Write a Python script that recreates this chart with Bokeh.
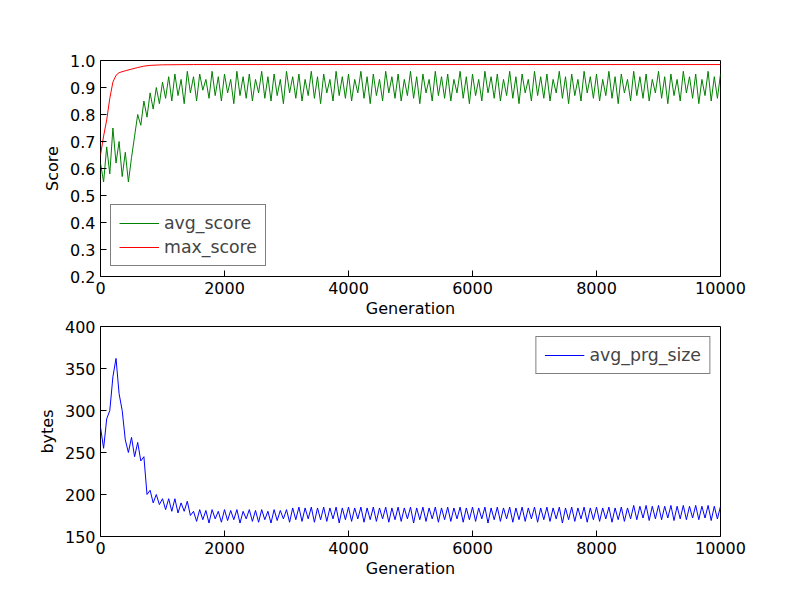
from bokeh.plotting import figure
from bokeh.layouts import column
from bokeh.models import FixedTicker, Legend, LegendItem, NumeralTickFormatter
from bokeh.embed import file_html
from bokeh.resources import INLINE

gen_step = 50
avg_score = [0.62,0.55,0.68,0.58,0.75,0.62,0.70,0.57,0.66,0.55,0.64,
 0.72,0.80,0.76,0.85,0.79,0.88,0.82,0.90,0.84,0.92,
 0.86,0.94,0.85,0.95,0.87,0.93,0.84,0.96,0.88,0.94,0.85,0.95,0.89,0.93,0.86,0.96,0.87,0.94,0.85,0.95,
 0.88,0.93,0.84,0.96,0.87,0.94,0.86,0.95,0.85,0.93,0.88,0.96,0.86,0.94,0.85,0.95,0.87,0.93,0.84,0.96,
 0.88,0.94,0.86,0.95,0.85,0.93,0.87,0.96,0.86,0.94,0.84,0.95,0.88,0.93,0.85,0.96,0.87,0.94,0.86,0.95,
 0.85,0.93,0.88,0.96,0.86,0.94,0.84,0.95,0.87,0.93,0.85,0.96,0.88,0.94,0.86,0.95,0.85,0.93,0.87,0.96,
 0.86,0.94,0.84,0.95,0.88,0.93,0.85,0.96,0.87,0.94,0.86,0.95,0.85,0.93,0.88,0.96,0.86,0.94,0.84,0.95,
 0.87,0.93,0.85,0.96,0.88,0.94,0.86,0.95,0.85,0.93,0.87,0.96,0.86,0.94,0.84,0.95,0.88,0.93,0.85,0.96,
 0.87,0.94,0.86,0.95,0.85,0.93,0.88,0.96,0.86,0.94,0.84,0.95,0.87,0.93,0.85,0.96,0.88,0.94,0.86,0.95,
 0.85,0.93,0.87,0.96,0.86,0.94,0.84,0.95,0.88,0.93,0.85,0.96,0.87,0.94,0.86,0.95,0.85,0.93,0.88,0.96,
 0.86,0.94,0.84,0.95,0.87,0.93,0.85,0.96,0.88,0.94,
 0.86,0.95,0.84,0.93,0.87,0.96,0.85,0.94,0.86,0.95]
max_x = [0,50,100,150,200,250,300,400,500,600,700,800,1000,1500,10000]
max_score = [0.65,0.72,0.78,0.86,0.92,0.945,0.955,0.962,0.968,0.974,0.979,0.982,0.984,0.985,0.985]
prg_size = [280,255,290,300,340,362,320,300,265,250,268,245,262,240,245,200,205,190,200,188,195,
 182,195,180,195,178,190,180,192,175,180,
 168,182,170,181,166,182,171,180,167,182,169,181,170,182,166,180,171,182,168,181,
 167,182,170,180,166,182,169,181,171,182,167,184,170,185,168,184,171,185,167,184,
 170,185,168,184,171,185,166,184,170,185,168,184,171,185,167,184,170,185,168,184,
 171,185,167,184,170,185,168,184,171,185,166,184,170,185,168,184,171,185,167,184,
 170,185,168,184,171,185,167,184,170,185,168,184,171,185,166,184,170,185,168,184,
 171,185,167,184,170,185,168,184,171,185,167,184,170,185,168,184,171,185,166,184,
 170,185,168,184,171,185,167,184,170,185,168,184,171,185,167,184,170,185,168,184,
 171,187,170,186,172,187,169,186,171,187,170,186,172,187,169,186,171,187,170,186,172,187,
 170,186,172,187,169,186,171,186]
gens = [i*gen_step for i in range(len(avg_score))]
gens2 = [i*gen_step for i in range(len(prg_size))]

def style(p):
    p.outline_line_color = "black"
    p.outline_line_width = 1
    p.xgrid.visible = False
    p.ygrid.visible = False
    p.background_fill_color = "white"
    p.border_fill_color = "white"
    for ax in (p.xaxis[0], p.yaxis[0]):
        ax.major_tick_in = 6
        ax.major_tick_out = 0
        ax.minor_tick_in = 0
        ax.minor_tick_out = 0
        ax.axis_line_color = None
        ax.major_label_text_font_size = "12pt"
        ax.major_label_text_font = "DejaVu Sans"
        ax.axis_label_text_font_size = "12pt"
        ax.axis_label_text_font = "DejaVu Sans"
        ax.axis_label_text_font_style = "normal"
        ax.major_label_text_color = "black"
        ax.axis_label_text_color = "black"
    p.xaxis[0].axis_label_standoff = 2
    p.xaxis.ticker = FixedTicker(ticks=[0,2000,4000,6000,8000,10000])

p1 = figure(width=784, height=320, x_range=(0,10000), y_range=(0.2,1.0),
            output_backend="svg", toolbar_location=None,
            min_border_left=100, min_border_right=64, min_border_top=60, min_border_bottom=42)
style(p1)
p1.yaxis.ticker = FixedTicker(ticks=[0.2,0.3,0.4,0.5,0.6,0.7,0.8,0.9,1.0])
p1.yaxis.formatter = NumeralTickFormatter(format="0.0")
p1.xaxis.axis_label = "Generation"
p1.yaxis.axis_label = "Score"
r1 = p1.line(gens, avg_score, line_color="green", line_width=1)
r2 = p1.line(max_x, max_score, line_color="red", line_width=1)
lg1 = Legend(items=[LegendItem(label="avg_score", renderers=[r1]),
                    LegendItem(label="max_score", renderers=[r2])],
             location="bottom_left", border_line_color="black", label_text_font_size="13pt",
             label_text_font="DejaVu Sans", glyph_width=40, margin=10, padding=8, spacing=4)
p1.add_layout(lg1)

p2 = figure(width=784, height=260, x_range=(0,10000), y_range=(150,400),
            output_backend="svg", toolbar_location=None,
            min_border_left=100, min_border_right=64, min_border_top=6, min_border_bottom=42)
style(p2)
p2.yaxis.ticker = FixedTicker(ticks=[150,200,250,300,350,400])
p2.xaxis.axis_label = "Generation"
p2.yaxis.axis_label = "bytes"
r3 = p2.line(gens2, prg_size, line_color="blue", line_width=1)
lg2 = Legend(items=[LegendItem(label="avg_prg_size", renderers=[r3])],
             location="top_right", border_line_color="black", label_text_font_size="13pt",
             label_text_font="DejaVu Sans", glyph_width=40, margin=10, padding=8)
p2.add_layout(lg2)

layout = column(p1, p2, spacing=0)
open("out.html", "w").write(file_html(layout, INLINE))
